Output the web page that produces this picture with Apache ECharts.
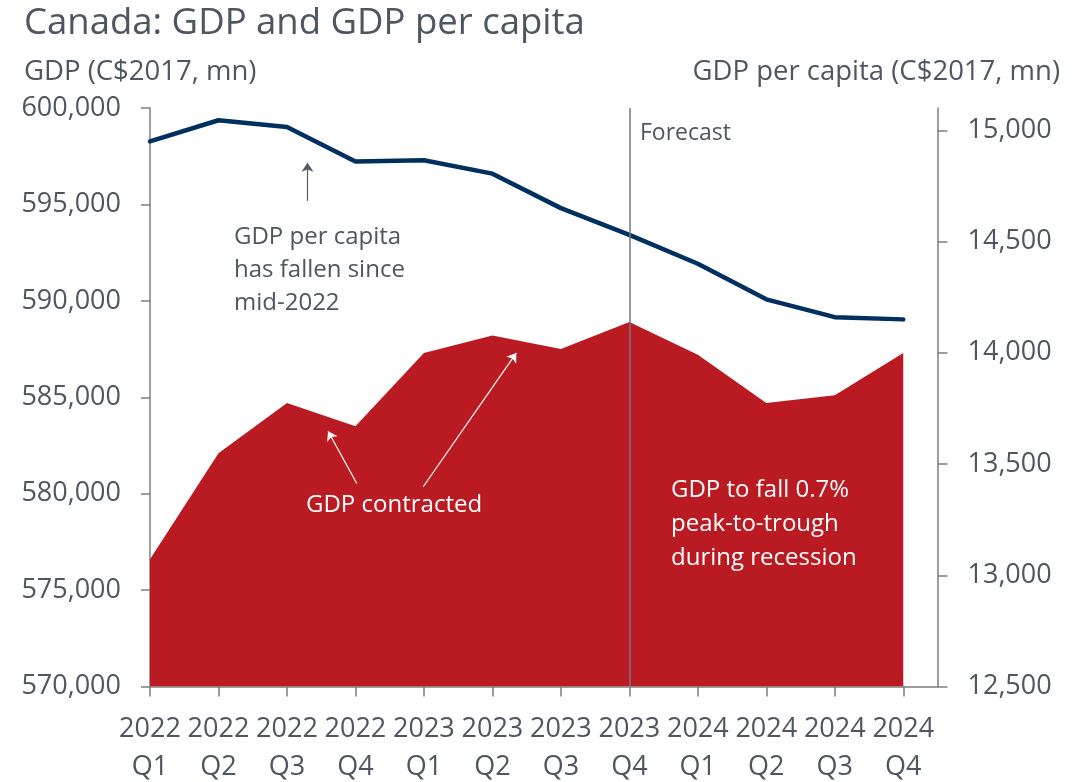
<!DOCTYPE html>
<html>
<head>
<meta charset="utf-8">
<script src="https://cdn.jsdelivr.net/npm/echarts@6/dist/echarts.min.js"></script>
<style>
  html, body { margin: 0; padding: 0; background: #fff; }
  #chart { width: 1081px; height: 782px; }
</style>
</head>
<body>
<div id="chart"></div>
<script>
// Quarterly periods shown on the horizontal axis
const quarters = ['2022\nQ1', '2022\nQ2', '2022\nQ3', '2022\nQ4',
                  '2023\nQ1', '2023\nQ2', '2023\nQ3', '2023\nQ4',
                  '2024\nQ1', '2024\nQ2', '2024\nQ3', '2024\nQ4'];

// Real GDP, C$2017 millions (left axis)
const gdp = [576600, 582100, 584700, 583500, 587300, 588200,
             587500, 588900, 587200, 584700, 585100, 587300];

// Real GDP per capita, C$2017 (right axis)
const gdpPerCapita = [14950, 15045, 15015, 14860, 14865, 14805,
                      14650, 14530, 14400, 14240, 14160, 14150];

// Tick labels
const leftTicks = [570000, 575000, 580000, 585000, 590000, 595000, 600000];
const rightTicks = [12500, 13000, 13500, 14000, 14500, 15000];

// First forecast quarter index
const forecastStart = 7;

const FONT = 'Open Sans';
const TEXT = '#4E5661';
const AXIS = '#7F7F7F';

const chart = echarts.init(document.getElementById('chart'), null, { renderer: 'canvas' });

const idx = quarters.map((_, i) => i);

chart.setOption({
  animation: false,
  backgroundColor: '#ffffff',
  textStyle: { fontFamily: FONT, color: TEXT },
  grid: { left: 150, right: 143.5, top: 108, bottom: 95.5, containLabel: false, outerBoundsMode: 'none' },
  xAxis: {
    type: 'value',
    min: 0,
    max: 11.5,
    interval: 1,
    splitLine: { show: false },
    axisLine: { show: true, onZero: false, lineStyle: { color: AXIS, width: 1.5 } },
    axisTick: { show: true, length: 10, customValues: idx, lineStyle: { color: AXIS, width: 1.5 } },
    axisLabel: {
      customValues: idx,
      formatter: v => quarters[Math.round(v)] || '',
      fontFamily: FONT, fontSize: 27, color: TEXT, lineHeight: 38, margin: 24
    }
  },
  yAxis: [
    {
      type: 'value',
      position: 'left',
      min: leftTicks[0],
      max: leftTicks[leftTicks.length - 1],
      interval: 5000,
      splitLine: { show: false },
      axisLine: { show: true, lineStyle: { color: AXIS, width: 1.5 } },
      axisTick: { show: true, length: 9, lineStyle: { color: AXIS, width: 1.5 } },
      axisLabel: { fontFamily: FONT, fontSize: 27, color: TEXT, margin: 29,
                   formatter: v => v.toLocaleString('en-US') }
    },
    {
      type: 'value',
      position: 'right',
      min: rightTicks[0],
      max: 15100,
      interval: 500,
      splitLine: { show: false },
      axisLine: { show: true, lineStyle: { color: AXIS, width: 1.5 } },
      axisTick: { show: true, length: 10, customValues: rightTicks, lineStyle: { color: AXIS, width: 1.5 } },
      axisLabel: { customValues: rightTicks, fontFamily: FONT, fontSize: 27, color: TEXT, margin: 30,
                   formatter: v => v.toLocaleString('en-US') }
    }
  ],
  series: [
    {
      name: 'GDP',
      type: 'line',
      yAxisIndex: 0,
      data: gdp.map((v, i) => [i, v]),
      showSymbol: false,
      lineStyle: { width: 0 },
      areaStyle: { color: '#BA1B22', opacity: 1, origin: 'start' },
      z: 1,
      markLine: {
        silent: true,
        symbol: ['none', 'arrow'],
        symbolSize: 9,
        label: { show: false },
        lineStyle: { type: 'solid', width: 1.2, color: '#ffffff' },
        data: [
          [{ coord: [3.02, 580530] }, { coord: [2.60, 583240] }],
          [{ coord: [3.99, 580360] }, { coord: [5.35, 587300] }],
          [{ coord: [2.30, 595180], lineStyle: { color: '#555b63' } },
           { coord: [2.30, 597160] }]
        ]
      }
    },
    {
      name: 'GDP per capita',
      type: 'line',
      yAxisIndex: 1,
      data: gdpPerCapita.map((v, i) => [i, v]),
      showSymbol: false,
      lineStyle: { width: 4.5, color: '#00305F', cap: 'round' },
      z: 3,
      markLine: {
        silent: true,
        symbol: ['none', 'none'],
        label: { show: false },
        lineStyle: { type: 'solid', width: 1.5, color: '#707780' },
        z: 5,
        data: [{ xAxis: forecastStart }]
      }
    }
  ],
  graphic: [
    { type: 'text', left: 24, top: 5, z: 10,
      style: { text: 'Canada: GDP and GDP per capita', font: '36.5px "Open Sans"', fill: TEXT } },
    { type: 'text', left: 24, top: 58, z: 10,
      style: { text: 'GDP (C$2017, mn)', font: '27.5px "Open Sans"', fill: TEXT } },
    { type: 'text', right: 21, top: 58, z: 10,
      style: { text: 'GDP per capita (C$2017, mn)', font: '27.5px "Open Sans"', fill: TEXT } },
    { type: 'text', left: 640, top: 122, z: 10,
      style: { text: 'Forecast', font: '23px "Open Sans"', fill: TEXT } },
    { type: 'text', left: 234, top: 221, z: 10,
      style: { text: 'GDP per capita\nhas fallen since\nmid-2022', font: '24px "Open Sans"', lineHeight: 33, fill: TEXT } },
    { type: 'text', left: 306, top: 493, z: 10,
      style: { text: 'GDP contracted', font: '24px "Open Sans"', fill: '#ffffff' } },
    { type: 'text', left: 671, top: 473, z: 10,
      style: { text: 'GDP to fall 0.7%\npeak-to-trough\nduring recession', font: '24px "Open Sans"', lineHeight: 34, fill: '#ffffff' } }
  ]
});
</script>
</body>
</html>
